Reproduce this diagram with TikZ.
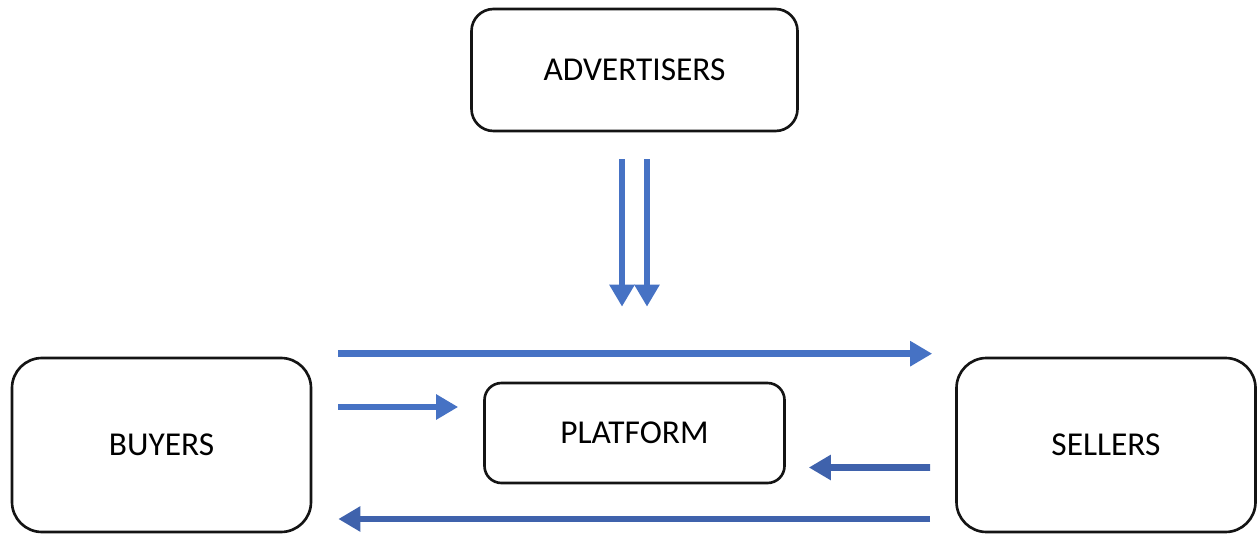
\documentclass[tikz,border=0pt]{standalone}
\definecolor{FlowBlue}{RGB}{70,114,196}
\definecolor{FlowDark}{RGB}{63,98,172}
\definecolor{Frame}{RGB}{20,20,20}
\usepackage{fontspec}
\setmainfont{Carlito}
\usepackage{tikz}
\usetikzlibrary{arrows.meta,positioning,calc}

\begin{document}
\begin{tikzpicture}[>={Triangle[length=0.44cm,width=0.48cm]},
  box/.style={draw=Frame,line width=1.5pt,fill=white,align=center,font=\fontsize{19}{23}\selectfont},
  flow/.style={->,line width=3.8pt,draw=FlowBlue},
  back/.style={->,line width=3.8pt,draw=FlowDark}]
  \useasboundingbox (0,0) rectangle (25.14,10.7);
  \node[box,rounded corners=0.44cm,minimum width=6.52cm,minimum height=2.44cm] (adv) at (12.69,9.30) {ADVERTISERS};
  \node[box,rounded corners=0.34cm,minimum width=6.0cm,minimum height=2.0cm] (platform) at (12.69,2.04) {PLATFORM};
  \node[box,rounded corners=0.6cm,minimum width=5.98cm,minimum height=3.48cm] (buyers) at (3.23,1.80) {BUYERS};
  \node[box,rounded corners=0.6cm,minimum width=5.98cm,minimum height=3.48cm] (sellers) at (22.12,1.80) {SELLERS};
  \draw[flow] ([xshift=-0.25cm,yshift=-0.54cm]adv.south) -- ([xshift=-0.25cm,yshift=1.5cm]platform.north);
  \draw[flow] ([xshift=0.25cm,yshift=-0.54cm]adv.south) -- ([xshift=0.25cm,yshift=1.5cm]platform.north);
  \draw[flow] ([xshift=0.52cm,yshift=0.06cm]buyers.north east) -- ([xshift=-0.46cm,yshift=0.06cm]sellers.north west);
  \draw[flow] ([xshift=0.52cm,yshift=0.76cm]buyers.east) -- ([xshift=-0.5cm,yshift=0.52cm]platform.west);
  \draw[back] ([xshift=-0.5cm,yshift=-0.45cm]sellers.west) -- ([xshift=0.46cm,yshift=-0.69cm]platform.east);
  \draw[back] ([xshift=-0.5cm,yshift=-1.48cm]sellers.west) -- ([xshift=0.52cm,yshift=-1.48cm]buyers.east);
\end{tikzpicture}
\end{document}
